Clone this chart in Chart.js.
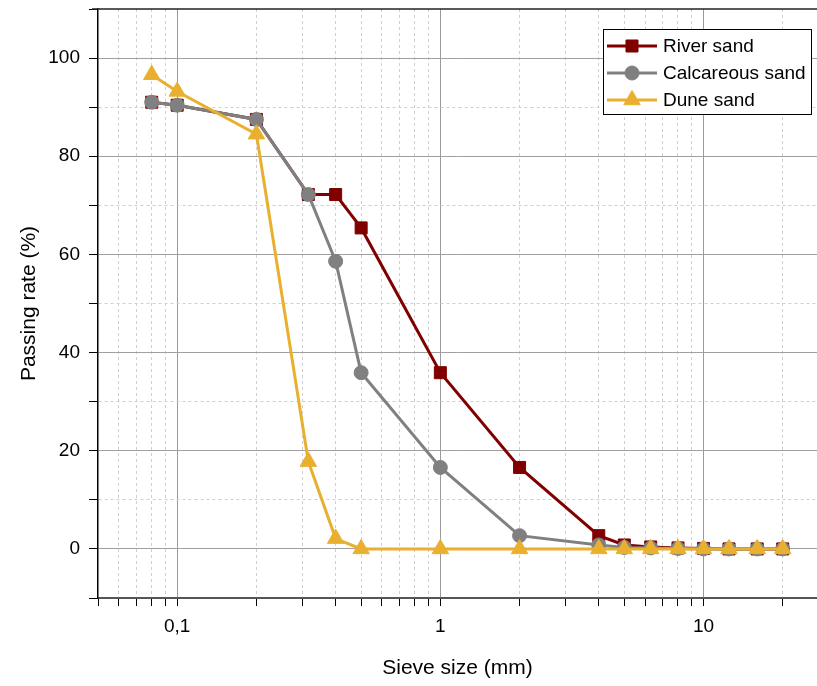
<!DOCTYPE html>
<html>
<head>
<meta charset="utf-8">
<script src="https://cdn.jsdelivr.net/npm/chart.js@4.4.1/dist/chart.umd.min.js"></script>
<style>
    html, body { margin: 0; padding: 0; background: #fff; overflow: hidden; }
    #wrap { width: 817px; height: 686px; }
</style>
</head>
<body>
<div id="wrap"><canvas id="sieveChart"></canvas></div>
<script>
const sieveSizes = [0.08, 0.1, 0.2, 0.315, 0.4, 0.5, 1, 2, 4, 5, 6.3, 8, 10, 12.5, 16, 20];
const riverSand = [91.0, 90.4, 87.5, 72.2, 72.2, 65.4, 35.9, 16.6, 2.7, 0.8, 0.4, 0.2, 0.1, 0, 0, 0];
const calcareousSand = [91.0, 90.4, 87.5, 72.2, 58.6, 35.9, 16.6, 2.7, 0.8, 0.3, 0.2, 0.1, 0, 0, 0, 0];
const duneSand = [96.6, 93.2, 84.5, 17.8, 2.1, 0, 0, 0, 0, 0, 0, 0, 0, 0, 0, 0];

const xTickValues = [0.05, 0.06, 0.07, 0.08, 0.09, 0.1, 0.2, 0.3, 0.4, 0.5, 0.6, 0.7, 0.8, 0.9,
    1, 2, 3, 4, 5, 6, 7, 8, 9, 10, 20];
const xMajorTicks = [0.1, 1, 10];
const xTickLabels = ['0,1', '1', '10'];
const yLabelTicks = [0, 20, 40, 60, 80, 100];

const FONT = "'Liberation Sans', Arial, Helvetica, sans-serif";

const toPoints = (values) => sieveSizes.map((x, i) => ({x: x, y: values[i]}));

// framed legend with line + marker samples, top right inside the plot
const boxLegend = {
    id: 'boxLegend',
    afterDraw(chart) {
        const c = chart.ctx;
        const area = chart.chartArea;
        const right = area.right - 6;
        const left = right - 208;
        const top = area.top + 20;
        c.save();
        c.fillStyle = '#ffffff';
        c.fillRect(left, top, 208, 85);
        c.strokeStyle = '#000000';
        c.lineWidth = 1;
        c.strokeRect(left + 0.5, top + 0.5, 208, 85);
        c.font = '19px ' + FONT;
        c.textBaseline = 'middle';
        chart.data.datasets.forEach((ds, i) => {
            const y = top + 17 + i * 27;
            c.strokeStyle = ds.borderColor;
            c.lineWidth = 3;
            c.setLineDash([]);
            c.beginPath();
            c.moveTo(left + 4, y);
            c.lineTo(left + 54, y);
            c.stroke();
            c.fillStyle = ds.pointBackgroundColor;
            c.strokeStyle = ds.pointBorderColor;
            c.lineWidth = 1;
            Chart.helpers.drawPoint(c, {pointStyle: ds.pointStyle, radius: ds.pointRadius, rotation: 0, borderWidth: 1}, left + 29, y);
            c.fillStyle = '#000000';
            c.fillText(ds.label, left + 60, y + 1);
        });
        c.restore();
    }
};

// top frame line
const topFrame = {
    id: 'topFrame',
    afterDraw(chart) {
        const ctx = chart.ctx;
        const area = chart.chartArea;
        ctx.save();
        ctx.strokeStyle = '#222222';
        ctx.lineWidth = 1.5;
        ctx.beginPath();
        ctx.moveTo(area.left - 6, area.top);
        ctx.lineTo(area.right, area.top);
        ctx.stroke();
        ctx.restore();
    }
};

function makeDataset(label, values, color, style, radius, order) {
    return {
        label: label,
        data: toPoints(values),
        borderColor: color,
        backgroundColor: color,
        pointBackgroundColor: color,
        pointBorderColor: color,
        pointStyle: style,
        pointRadius: radius,
        pointHoverRadius: radius,
        pointBorderWidth: 1,
        borderWidth: 3,
        tension: 0,
        fill: false,
        order: order
    };
}

document.addEventListener('DOMContentLoaded', () => {
    const ctx = document.getElementById('sieveChart').getContext('2d');

    new Chart(ctx, {
        type: 'line',
        data: {
            datasets: [
                makeDataset('River sand', riverSand, '#800000', 'rect', 8.5, 3),
                makeDataset('Calcareous sand', calcareousSand, '#808080', 'circle', 7, 2),
                makeDataset('Dune sand', duneSand, '#E9B030', 'triangle', 9.5, 1)
            ]
        },
        options: {
            responsive: true,
            maintainAspectRatio: false,
            animation: false,
            layout: {
                autoPadding: false,
                padding: {top: 9, right: 0, left: 0, bottom: 0}
            },
            plugins: {
                legend: {display: false},
                tooltip: {enabled: false}
            },
            scales: {
                x: {
                    type: 'logarithmic',
                    position: 'bottom',
                    min: 0.05,
                    max: 27,
                    afterBuildTicks: (scale) => {
                        scale.ticks = xTickValues.map(v => ({value: v, major: xMajorTicks.includes(v)}));
                    },
                    afterFit: (scale) => {
                        scale.height = 88;
                        scale.paddingLeft = 0;
                        scale.paddingRight = 0;
                    },
                    ticks: {
                        autoSkip: false,
                        maxRotation: 0,
                        minRotation: 0,
                        padding: 9,
                        color: '#000000',
                        font: {family: FONT, size: 19},
                        callback: function (value) {
                            const idx = xMajorTicks.indexOf(value);
                            return idx >= 0 ? xTickLabels[idx] : '';
                        }
                    },
                    grid: {
                        drawTicks: true,
                        tickLength: 8,
                        tickColor: '#000000',
                        tickWidth: 1,
                        tickBorderDash: [],
                        lineWidth: 1,
                        color: (c) => {
                            if (!c.tick) return '#cccccc';
                            if (c.tick.value === 0.05) return 'rgba(0,0,0,0)';
                            return xMajorTicks.includes(c.tick.value) ? '#9a9a9a' : '#cfcfcf';
                        }
                    },
                    border: {
                        display: true,
                        color: '#555555',
                        width: 2,
                        dash: (c) => (c.tick && !xMajorTicks.includes(c.tick.value)) ? [3, 3] : []
                    },
                    title: {
                        display: true,
                        text: 'Sieve size (mm)',
                        color: '#000000',
                        font: {family: FONT, size: 21},
                        padding: {top: 0, bottom: 5}
                    }
                },
                y: {
                    min: -10,
                    max: 110,
                    afterFit: (scale) => {
                        scale.width = 98;
                        scale.paddingTop = 0;
                        scale.paddingBottom = 0;
                    },
                    ticks: {
                        stepSize: 10,
                        padding: 9,
                        color: '#000000',
                        font: {family: FONT, size: 19},
                        callback: (value) => yLabelTicks.includes(value) ? String(value) : ''
                    },
                    grid: {
                        drawTicks: true,
                        tickLength: 9,
                        tickColor: '#000000',
                        tickWidth: 1,
                        tickBorderDash: [],
                        lineWidth: 1,
                        color: (c) => {
                            if (!c.tick) return '#cccccc';
                            const v = c.tick.value;
                            if (v === -10 || v === 110) return 'rgba(0,0,0,0)';
                            return yLabelTicks.includes(v) ? '#a0a0a0' : '#cfcfcf';
                        }
                    },
                    border: {
                        display: true,
                        color: '#000000',
                        width: 1.5,
                        dash: (c) => (c.tick && !yLabelTicks.includes(c.tick.value)) ? [3, 3] : []
                    },
                    title: {
                        display: true,
                        text: 'Passing rate (%)',
                        color: '#000000',
                        font: {family: FONT, size: 21},
                        padding: {top: 17, bottom: 0}
                    }
                }
            }
        },
        plugins: [topFrame, boxLegend]
    });
});
</script>
</body>
</html>
